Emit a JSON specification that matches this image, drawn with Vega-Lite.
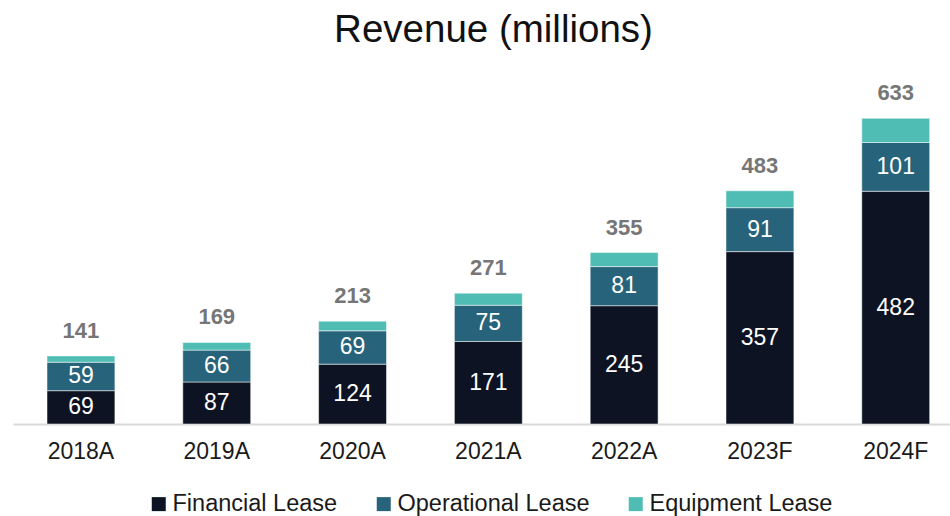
{
 "$schema": "https://vega.github.io/schema/vega-lite/v6.json",
 "width": 937, "height": 338,
 "autosize": {"type": "none"},
 "padding": {"left": 13, "top": 86, "right": 0, "bottom": 92},
 "title": {"text": "Revenue (millions)", "fontSize": 38.5, "font": "Liberation Sans", "fontWeight": "normal", "color": "#111111", "baseline": "alphabetic", "offset": 2, "anchor": "middle", "dx": 12},
 "config": {"view": {"stroke": null}, "font": "Liberation Sans"},
 "data": {"values": [
  {"year": "2018A", "series": "Financial Lease", "k": 1, "value": 69},
  {"year": "2018A", "series": "Operational Lease", "k": 2, "value": 59},
  {"year": "2018A", "series": "Equipment Lease", "k": 3, "value": 13},
  {"year": "2019A", "series": "Financial Lease", "k": 1, "value": 87},
  {"year": "2019A", "series": "Operational Lease", "k": 2, "value": 66},
  {"year": "2019A", "series": "Equipment Lease", "k": 3, "value": 16},
  {"year": "2020A", "series": "Financial Lease", "k": 1, "value": 124},
  {"year": "2020A", "series": "Operational Lease", "k": 2, "value": 69},
  {"year": "2020A", "series": "Equipment Lease", "k": 3, "value": 20},
  {"year": "2021A", "series": "Financial Lease", "k": 1, "value": 171},
  {"year": "2021A", "series": "Operational Lease", "k": 2, "value": 75},
  {"year": "2021A", "series": "Equipment Lease", "k": 3, "value": 25},
  {"year": "2022A", "series": "Financial Lease", "k": 1, "value": 245},
  {"year": "2022A", "series": "Operational Lease", "k": 2, "value": 81},
  {"year": "2022A", "series": "Equipment Lease", "k": 3, "value": 29},
  {"year": "2023F", "series": "Financial Lease", "k": 1, "value": 357},
  {"year": "2023F", "series": "Operational Lease", "k": 2, "value": 91},
  {"year": "2023F", "series": "Equipment Lease", "k": 3, "value": 35},
  {"year": "2024F", "series": "Financial Lease", "k": 1, "value": 482},
  {"year": "2024F", "series": "Operational Lease", "k": 2, "value": 101},
  {"year": "2024F", "series": "Equipment Lease", "k": 3, "value": 50}
 ]},
 "encoding": {
  "x": {"field": "year", "type": "nominal", "sort": null,
        "scale": {"paddingInner": 0.5, "paddingOuter": 0.2, "align": 0.626},
        "axis": {"title": null, "labelAngle": 0, "labelFontSize": 23, "labelColor": "#1a1a1a", "labelPadding": 16, "ticks": false, "domainColor": "#d9d9d9", "domainWidth": 2}}
 },
 "layer": [
  {"mark": {"type": "bar", "stroke": "#ffffff", "strokeWidth": 0.5},
   "encoding": {
    "y": {"field": "value", "type": "quantitative", "stack": "zero", "scale": {"domain": [0, 700]}, "axis": null},
    "color": {"field": "series", "type": "nominal",
              "scale": {"domain": ["Financial Lease", "Operational Lease", "Equipment Lease"], "range": ["#0d1322", "#27637a", "#50bdb4"]},
              "legend": {"title": null, "orient": "none", "legendX": 134, "legendY": 406, "padding": 0, "direction": "horizontal", "symbolType": "square", "symbolSize": 196, "symbolStrokeWidth": 0, "labelFontSize": 23.5, "labelColor": "#1a1a1a", "labelLimit": 400, "columnPadding": 34, "labelOffset": 2}},
    "order": {"field": "k", "type": "quantitative"}
   }},
  {"transform": [{"filter": "datum.series !== 'Equipment Lease'"}],
   "mark": {"type": "text", "color": "#ffffff", "fontSize": 23, "baseline": "middle"},
   "encoding": {
    "y": {"field": "value", "type": "quantitative", "stack": "zero", "bandPosition": 0.5},
    "order": {"field": "k", "type": "quantitative"},
    "text": {"field": "value", "type": "quantitative"}
   }},
  {"mark": {"type": "text", "fontWeight": "bold", "color": "#767676", "fontSize": 22, "baseline": "alphabetic", "dy": -18},
   "encoding": {
    "y": {"aggregate": "sum", "field": "value", "type": "quantitative"},
    "text": {"aggregate": "sum", "field": "value", "type": "quantitative"}
   }}
 ]
}
